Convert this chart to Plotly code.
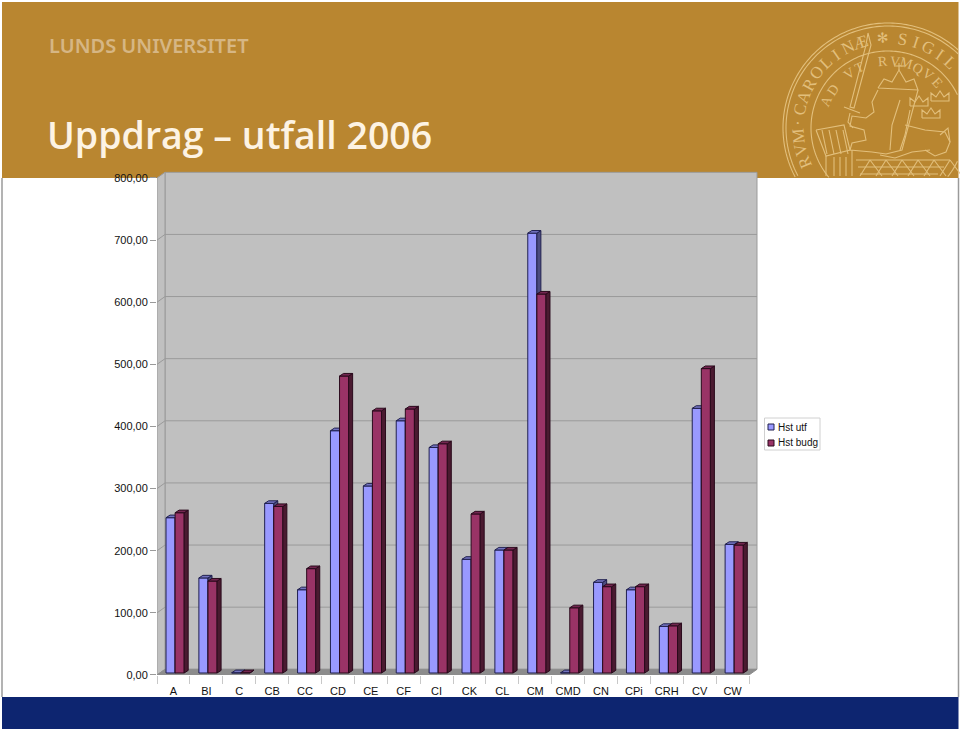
import math
import numpy as np
import plotly.graph_objects as go

categories = ["A","BI","C","CB","CC","CD","CE","CF","CI","CK","CL","CM","CMD","CN","CPi","CRH","CV","CW"]
hst_utf  = [250,153,0.5,273,134,390,301,406,363,183,198,708,0.5,146,134,75,426,207]
hst_budg = [258,148,0.5,268,168,478,422,425,369,256,198,610,105,139,139,76,490,206]
y_ticks = [0,100,200,300,400,500,600,700,800]
y_labels = ["0,00","100,00","200,00","300,00","400,00","500,00","600,00","700,00","800,00"]

W, H = 960, 732
PX_L, PX_R, PX_T, PX_B = 157, 749, 178, 675
N = len(categories)
px_per_cat = (PX_R - PX_L) / N
px_per_val = (PX_B - PX_T) / 800
WALL_DX = 8 / px_per_cat
WALL_DY = 5.7 / px_per_val
BAR_W = 9.1 / px_per_cat
BAR_DX = 4 / px_per_cat
BAR_DY = 2.6 / px_per_val
UTF_START = 9 / px_per_cat
BASE_SHIFT = 2 / px_per_val
X_MAX = N + WALL_DX + 0.03
Y_MAX = 800 + WALL_DY + 1.5

def X(p): return p / W
def Y(p): return 1 - p / H

fig = go.Figure()

def poly(xs, ys, fill, line, yaxis="y", width=1):
    fig.add_trace(go.Scatter(x=xs, y=ys, mode="lines", fill="toself", fillcolor=fill,
                             line=dict(color=line, width=width), hoverinfo="skip",
                             showlegend=False, cliponaxis=False, yaxis=yaxis))

# back wall, side wall, floor
poly([WALL_DX, N + WALL_DX, N + WALL_DX, WALL_DX, WALL_DX],
     [WALL_DY, WALL_DY, 800 + WALL_DY, 800 + WALL_DY, WALL_DY], "#c0c0c0", "#9a9a9a")
poly([0, WALL_DX, WALL_DX, 0, 0], [0, WALL_DY, 800 + WALL_DY, 800, 0], "#c0c0c0", "#9a9a9a")
poly([0, WALL_DX, N + WALL_DX, N, 0], [0, WALL_DY, WALL_DY, 0, 0], "#8c8c8c", "#8c8c8c")

# gridlines following the walls
gx, gy = [], []
for v in y_ticks[1:-1]:
    gx += [0, WALL_DX, N + WALL_DX, None]
    gy += [v, v + WALL_DY, v + WALL_DY, None]
fig.add_trace(go.Scatter(x=gx, y=gy, mode="lines", line=dict(color="#9a9a9a", width=1),
                         hoverinfo="skip", showlegend=False, cliponaxis=False))

def series(name, values, start, yaxis, front, side, top, edge):
    centers = [i + start + BAR_W / 2 for i in range(N)]
    fig.add_trace(go.Bar(name=name, x=centers, y=values, width=BAR_W, yaxis=yaxis,
                         marker=dict(color=front, line=dict(color=edge, width=1)),
                         showlegend=False, cliponaxis=False))
    sx, sy, tx, ty = [], [], [], []
    for c, v in zip(centers, values):
        x0, x1 = c - BAR_W / 2, c + BAR_W / 2
        sx += [x1, x1 + BAR_DX, x1 + BAR_DX, x1, x1, None]
        sy += [0, BAR_DY, v + BAR_DY, v, 0, None]
        tx += [x0, x0 + BAR_DX, x1 + BAR_DX, x1, x0, None]
        ty += [v, v + BAR_DY, v + BAR_DY, v, v, None]
    poly(sx, sy, side, edge, yaxis)
    poly(tx, ty, top, edge, yaxis)

series("Hst utf", hst_utf, UTF_START, "y2", "#9999ff", "#4d4d80", "#7373bf", "#20204f")
series("Hst budg", hst_budg, UTF_START + BAR_W, "y3", "#993366", "#4a1a30", "#732650", "#2a0a1c")

dom_x = [X(PX_L), X(PX_L + X_MAX * px_per_cat)]
dom_y = [Y(PX_B), Y(PX_B - Y_MAX * px_per_val)]
bar_range = [-BASE_SHIFT, Y_MAX - BASE_SHIFT]

shapes = [
    dict(type="rect", xref="paper", yref="paper", x0=X(2), x1=X(958.5), y0=Y(178), y1=Y(2),
         fillcolor="#b98630", line_width=0, layer="below"),
    dict(type="rect", xref="paper", yref="paper", x0=X(2), x1=X(958.5), y0=Y(729), y1=Y(697),
         fillcolor="#0d2570", line_width=0, layer="below"),
    dict(type="line", xref="paper", yref="paper", x0=X(2), x1=X(2), y0=Y(697), y1=Y(178),
         line=dict(color="#9a9a9a", width=1.5), layer="below"),
    dict(type="line", xref="paper", yref="paper", x0=X(958.5), x1=X(958.5), y0=Y(697), y1=Y(178),
         line=dict(color="#9a9a9a", width=1.5), layer="below"),
    # legend box and swatches
    dict(type="rect", xref="paper", yref="paper", x0=X(764.5), x1=X(820), y0=Y(450), y1=Y(418),
         fillcolor="#ffffff", line=dict(color="#d0d0d0", width=1)),
    dict(type="rect", xref="paper", yref="paper", x0=X(768), x1=X(774), y0=Y(430), y1=Y(424),
         fillcolor="#9999ff", line=dict(color="#20204f", width=1)),
    dict(type="rect", xref="paper", yref="paper", x0=X(768), x1=X(774), y0=Y(446), y1=Y(440),
         fillcolor="#993366", line=dict(color="#2a0a1c", width=1)),
]

SEAL = "#e2bf7c"
CX, CY = 888, 128

def seal_path(points, close=False):
    d = "M" + "L".join(f"{X(a):.5f},{Y(b):.5f}" for a, b in points)
    if close:
        d += "Z"
    shapes.append(dict(type="path", xref="paper", yref="paper", path=d,
                       line=dict(color=SEAL, width=1.1), layer="below"))

for r in (105, 102, 77):
    run = []
    for t in np.linspace(0, 2 * math.pi, 240):
        a, b = CX + r * math.cos(t), CY - r * math.sin(t)
        if b < 177.5 and a < 958:
            run.append((a, b))
        else:
            if len(run) > 1:
                seal_path(run)
            run = []
    if len(run) > 1:
        seal_path(run)

# sword, lion, book, floor and crowns, sketched in outline
seal_path([(868, 33), (871, 45), (854, 108), (850, 107), (866, 45), (868, 33)])
seal_path([(844, 107), (860, 113)])
seal_path([(850, 113), (848, 122), (853, 128)])
seal_path([(878, 88), (884, 79), (892, 82), (899, 70), (906, 82), (914, 79), (918, 90), (878, 88)])
seal_path([(899, 70), (899, 63)])
seal_path([(894, 66), (904, 66)])
seal_path([(878, 90), (872, 102), (874, 112), (866, 118), (852, 116), (850, 126), (864, 130),
           (866, 140), (852, 143), (850, 150), (872, 152)])
seal_path([(918, 90), (902, 150), (886, 154), (872, 152)])
seal_path([(900, 100), (892, 125), (890, 150)])
seal_path([(910, 110), (905, 135), (900, 150)])
seal_path([(905, 125), (925, 130), (945, 132), (950, 142), (946, 152), (935, 156), (925, 150)])
seal_path([(930, 150), (912, 152), (895, 158), (880, 155)])
seal_path([(940, 135), (948, 128), (950, 142)])
seal_path([(816, 130), (844, 125), (850, 150), (826, 156), (816, 130)])
for s in (822, 829, 836, 843):
    seal_path([(s, 130), (s + 5, 154)])
seal_path([(826, 156), (826, 176)])
seal_path([(852, 150), (852, 176)])
for s in (834, 840, 846):
    seal_path([(s, 157), (s, 176)])
for s in (0, 1, 2):
    seal_path([(856 + s * 2, 160 + s * 7), (950 - s * 6, 160 + s * 7)])
for s in range(6):
    seal_path([(870 + s * 16, 160), (860 + s * 16, 176)])
    seal_path([(870 + s * 16, 160), (882 + s * 16, 176)])
for cx0, cy0 in ((919, 102), (940, 97), (931, 114)):
    seal_path([(cx0 - 9, cy0 + 4), (cx0 - 9, cy0 - 4), (cx0 - 4, cy0), (cx0, cy0 - 6), (cx0 + 4, cy0),
               (cx0 + 9, cy0 - 4), (cx0 + 9, cy0 + 4), (cx0 - 9, cy0 + 4)])

annotations = [
    dict(text="LUNDS UNIVERSITET", x=X(46.5), y=Y(45), xref="paper", yref="paper", xanchor="left",
         yanchor="middle", showarrow=False, font=dict(family="Noto Sans", size=20, color="#d6b684", weight=600)),
    dict(text="Uppdrag – utfall 2006", x=X(44.5), y=Y(134), xref="paper", yref="paper", xanchor="left",
         yanchor="middle", showarrow=False, font=dict(family="Open Sans", size=37.5, color="#fdf3e3", weight=600)),
    dict(text="Hst utf", x=X(775.5), y=Y(427), xref="paper", yref="paper", xanchor="left", yanchor="middle",
         showarrow=False, font=dict(family="Liberation Sans", size=10, color="#111111")),
    dict(text="Hst budg", x=X(775.5), y=Y(443), xref="paper", yref="paper", xanchor="left", yanchor="middle",
         showarrow=False, font=dict(family="Liberation Sans", size=10, color="#111111")),
]

def ring_text(text, radius, start, step, size):
    ang = start
    for ch in text:
        a, b = CX + radius * math.cos(math.radians(ang)), CY - radius * math.sin(math.radians(ang))
        if ch != " " and b < 170 and a < 952:
            annotations.append(dict(text=ch, x=X(a), y=Y(b), xref="paper", yref="paper", showarrow=False,
                                    textangle=90 - ang, xanchor="center", yanchor="middle",
                                    font=dict(family="Liberation Serif", size=size, color=SEAL)))
        ang -= step

ring_text("ORVM·CAROLINÆ", 90, 211, 8.6, 17)
ring_text("✻", 90, 93, 9, 14)
ring_text("SIGILLVM", 90, 80.5, 8.5, 17)
ring_text("AD VT RVMQVE", 67, 156, 10.3, 14)

fig.update_layout(
    width=W, height=H, margin=dict(l=0, r=0, t=0, b=0, pad=0, autoexpand=False),
    paper_bgcolor="#ffffff", plot_bgcolor="rgba(0,0,0,0)", barmode="overlay",
    showlegend=False, shapes=shapes, annotations=annotations,
    font=dict(family="Liberation Sans", size=11, color="#111111"),
    xaxis=dict(domain=dom_x, range=[0, X_MAX], tickmode="array",
               tickvals=[i + 0.5 for i in range(N)], ticktext=categories, ticks="", showgrid=False,
               zeroline=False, showline=False, ticklabelstandoff=8, anchor="y",
               minor=dict(tickmode="array", tickvals=list(range(N + 1)), ticks="outside", ticklen=8,
                          tickcolor="#c8c8c8", tickwidth=1, showgrid=False)),
    yaxis=dict(domain=dom_y, range=[0, Y_MAX], tickmode="array", tickvals=y_ticks, ticktext=y_labels,
               ticks="outside", ticklen=6, tickcolor="#9a9a9a", tickwidth=1, showgrid=False,
               zeroline=False, showline=False),
    yaxis2=dict(domain=dom_y, range=bar_range, overlaying="y", visible=False),
    yaxis3=dict(domain=dom_y, range=bar_range, overlaying="y", visible=False),
)

fig.write_html("out.html", config={"displayModeBar": False},
               post_script="document.body.style.margin='0';document.body.style.overflow='hidden';")
